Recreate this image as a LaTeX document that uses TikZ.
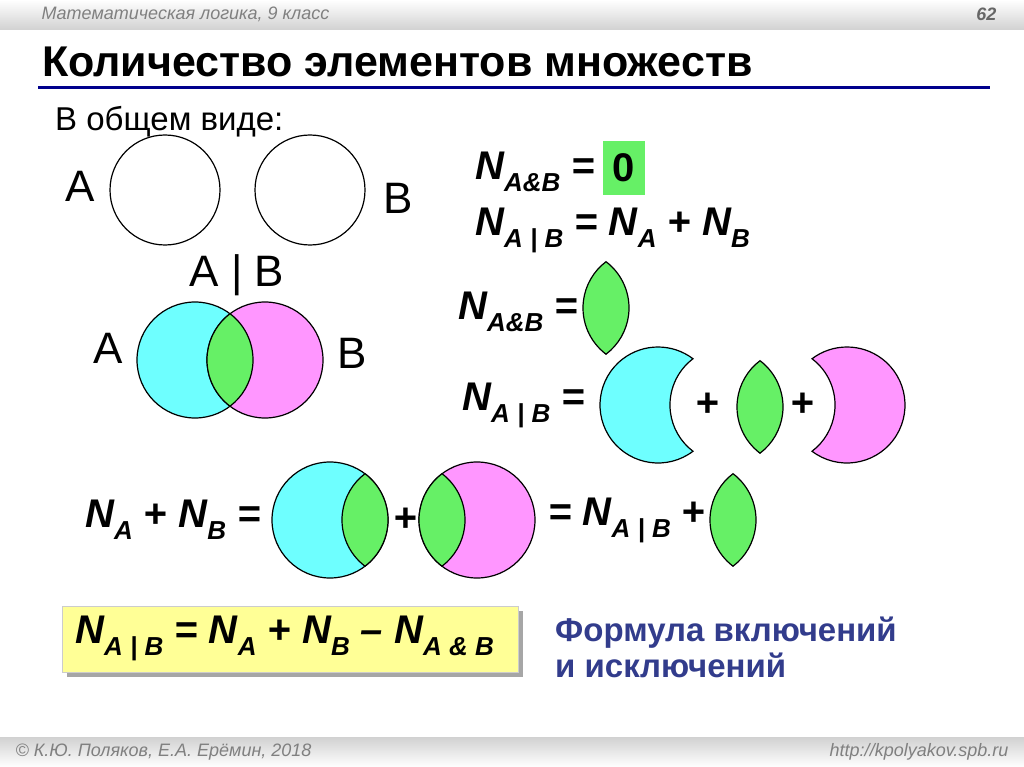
\documentclass[tikz,border=0pt]{standalone}
\usepackage{fontspec}
\setmainfont{Liberation Sans}
\definecolor{cy}{RGB}{110,255,255}
\definecolor{pk}{RGB}{255,150,255}
\definecolor{gr}{RGB}{102,240,102}
\definecolor{yl}{RGB}{255,255,150}
\definecolor{bl}{RGB}{0,0,140}
\definecolor{tb}{RGB}{50,60,140}
\newcommand\NN[1]{\textbf{\textit{N}}\raisebox{-0.3em}{\fontsize{26}{28}\selectfont\textbf{\textit{#1}}}}
\newcommand\mylens[2]{\filldraw[lensst] (#1,#2) ++(0,46.2) arc[start angle=127.1,end angle=232.9,radius=58] arc[start angle=-52.9,end angle=52.9,radius=58] -- cycle;}
\begin{document}
\begin{tikzpicture}[x=1pt,y=-1pt,
  lensst/.style={fill=gr,draw=black,line width=1.2pt},
  fm/.style={font=\fontsize{40}{46}\selectfont\bfseries\itshape,anchor=west,inner sep=0pt},
  big/.style={font=\fontsize{44}{50}\selectfont,inner sep=0pt}]
\useasboundingbox (0,0) rectangle (1024,767);
\fill[white] (0,0) rectangle (1024,767);
\shade[top color=white,bottom color=black!18] (0,0) rectangle (1024,30);
\shade[top color=black!18,bottom color=white] (0,737) rectangle (1024,767);
\node[anchor=west,text=black!50,font=\fontsize{18}{20}\selectfont\itshape] (hd) at (38,14) {Математическая логика, 9 класс};
\node[anchor=east,text=black!60,font=\fontsize{18}{20}\selectfont\bfseries\itshape] (pg) at (1000,14) {62};
\node[anchor=west,text=black!50,font=\fontsize{18}{20}\selectfont\itshape] (ft) at (12,752) {© К.Ю. Поляков, Е.А. Ерёмин, 2018};
\node[anchor=east,text=black!50,font=\fontsize{18}{20}\selectfont\itshape] (url) at (1012,752) {http://kpolyakov.spb.ru};
\node[anchor=west,font=\fontsize{43}{48}\selectfont\bfseries,inner sep=0pt] (title) at (42,62) {Количество элементов множеств};
\draw[bl,line width=3pt] (38,88) -- (990,88);
\node[anchor=west,font=\fontsize{33}{38}\selectfont,inner sep=0pt] (gen) at (55,122) {В общем виде:};
% disjoint circles
\draw[line width=1.2pt] (165,190) circle[radius=55];
\draw[line width=1.2pt] (310,190) circle[radius=55];
\node[big] (a1) at (80,186) {A};
\node[big] (b1) at (398,198) {B};
\node[big] (ab) at (237,275) {A | B};
% Venn
\filldraw[fill=cy,line width=1.2pt] (195,360) circle[radius=58];
\filldraw[fill=pk,line width=1.2pt] (265,360) circle[radius=58];
\mylens{230}{360}
\node[big] (a2) at (108,348) {A};
\node[big] (b2) at (352,353) {B};
% formulas right
\node[fm] (f1) at (475,172) {\NN{A\&B} =};
\node[fill=gr,font=\fontsize{40}{44}\selectfont\bfseries,minimum width=42pt,minimum height=54pt,inner sep=0pt] (zero) at (624,168) {0};
\node[fm] (f2) at (475,230) {\NN{A | B} = \NN{A} + \NN{B}};
\node[fm] (f3) at (458,312) {\NN{A\&B} =};
\mylens{606}{308}
\node[fm] (f4) at (462,405) {\NN{A | B} =};
\filldraw[fill=cy,line width=1.2pt] (658,405) ++(52.9:58) arc[start angle=52.9,end angle=307.1,radius=58] arc[start angle=232.9,end angle=127.1,radius=58] -- cycle;
\node[fm] (p1) at (695,405) {+};
\mylens{760}{407}
\node[fm] (p2) at (790,405) {+};
\filldraw[fill=pk,line width=1.2pt] (847,405) ++(127.1:58) arc[start angle=127.1,end angle=-127.1,radius=58] arc[start angle=-52.9,end angle=52.9,radius=58] -- cycle;
% bottom row
\node[fm] (f5) at (85,520) {\NN{A} + \NN{B} =};
\filldraw[fill=cy,line width=1.2pt] (330,520) circle[radius=58];
\mylens{365}{520}
\node[fm] (p3) at (393,520) {+};
\filldraw[fill=pk,line width=1.2pt] (477,520) circle[radius=58];
\mylens{442}{520}
\node[fm] (f6) at (548,520) {= \NN{A | B} +};
\mylens{733}{520}
% yellow box
\fill[black!35] (67,611) rectangle (523,677);
\filldraw[fill=yl,draw=black!20] (62,606) rectangle (518,672);
\node[fm] (f7) at (75,638) {\NN{A | B} = \NN{A} + \NN{B} – \NN{A \& B}};
\node[anchor=west,align=left,text=tb,font=\fontsize{33}{36}\selectfont\bfseries,inner sep=0pt] (inc) at (555,647) {Формула включений\\и исключений};
\end{tikzpicture}
\end{document}
